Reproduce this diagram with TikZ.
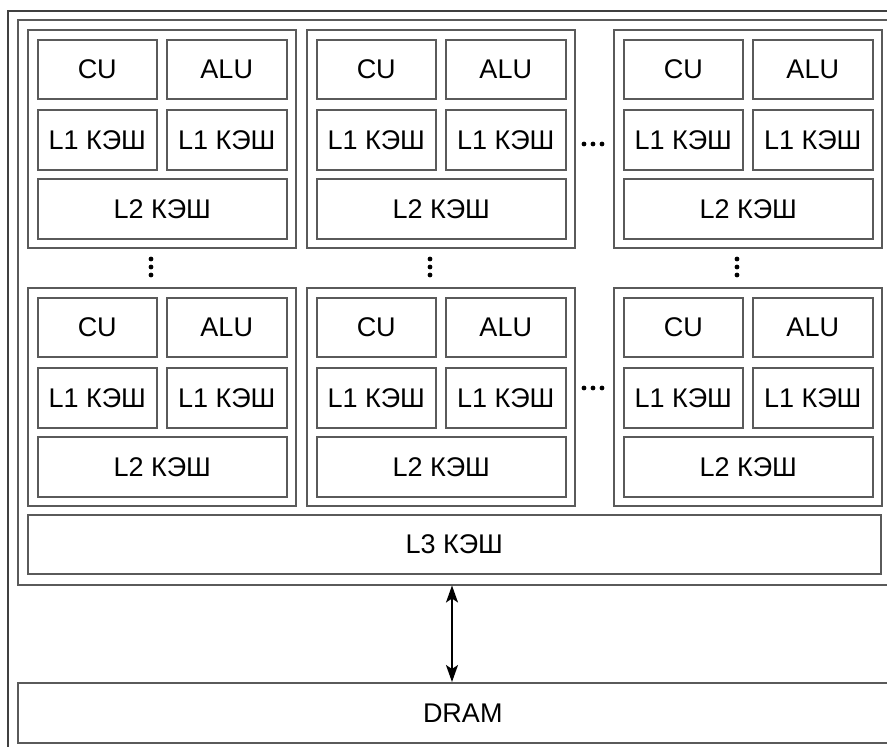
\documentclass[tikz,border=0pt]{standalone}
\usepackage{fontspec}
\setmainfont{Liberation Sans}
\usetikzlibrary{arrows.meta}
\definecolor{edge}{HTML}{5A5A5A}
\tikzset{
  box/.style={draw=edge, line width=1.5pt, fill=white, inner sep=0pt, anchor=north west,
    font=\fontsize{27}{31}\selectfont},
  dotmark/.style={fill=black},
  link/.style={{Stealth[length=17pt,width=12pt,inset=4pt]}-{Stealth[length=17pt,width=12pt,inset=4pt]}, line width=1.8pt, black},
}
\newcommand{\coregroup}[3]{%
  \node[box, minimum width=268pt, minimum height=218pt] (g#1) at (#2,#3) {};
  \node[box, minimum width=119pt, minimum height=59pt] (cu#1) at (#2+10,#3+10) {CU};
  \node[box, minimum width=120pt, minimum height=59pt] (alu#1) at (#2+139,#3+10) {ALU};
  \node[box, minimum width=119pt, minimum height=60pt] (la#1) at (#2+10,#3+80) {L1 КЭШ};
  \node[box, minimum width=120pt, minimum height=60pt] (lb#1) at (#2+139,#3+80) {L1 КЭШ};
  \node[box, minimum width=249pt, minimum height=60pt] (ltwo#1) at (#2+10,#3+149) {L2 КЭШ};
}
\begin{document}
\begin{tikzpicture}[x=1pt,y=-1pt]
\useasboundingbox (0,0) rectangle (887,747);
\clip (0,0) rectangle (887,747);
\fill[white] (0,0) rectangle (887,747);
% outer system box
\node[box, draw=black!75, minimum width=900pt, minimum height=760pt] (sys) at (7,10) {};
% processor box
\node[box, minimum width=890pt, minimum height=565pt] (proc) at (17,19) {};
\coregroup{a}{27}{29}
\coregroup{b}{306}{29}
\coregroup{c}{613}{29}
\coregroup{d}{27}{287}
\coregroup{e}{306}{287}
\coregroup{f}{613}{287}
\node[box, minimum width=853pt, minimum height=59pt] (lthree) at (27,514) {L3 КЭШ};
\node[box, minimum width=890pt, minimum height=60pt] (dram) at (17,682) {DRAM};
% connector
\coordinate (ax) at (452,0);
\draw[link] (proc.south -| ax) -- (dram.north -| ax);
% vertical ellipses
\foreach \x in {151,430,737}{
  \foreach \y in {259,267,275}{ \fill[dotmark] (\x,\y) circle (2.4pt); }
}
% horizontal ellipses
\foreach \y in {144,388}{
  \foreach \x in {584,593,602}{ \fill[dotmark] (\x,\y) circle (2.4pt); }
}
\end{tikzpicture}
\end{document}
